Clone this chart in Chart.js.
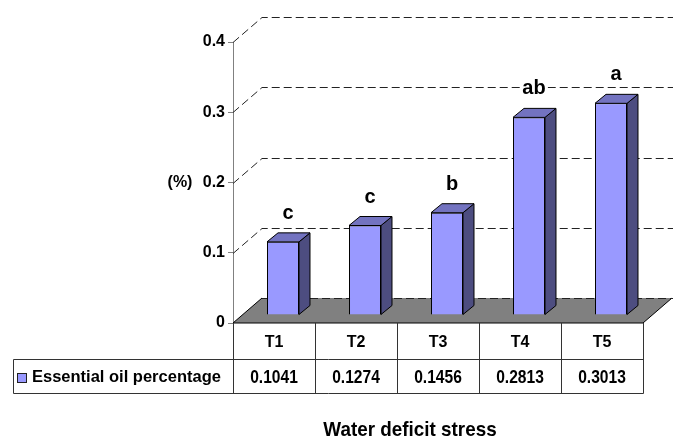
<!DOCTYPE html>
<html>
<head>
<meta charset="utf-8">
<script src="https://cdn.jsdelivr.net/npm/chart.js@4.4.1/dist/chart.umd.min.js"></script>
<style>
  html, body { margin: 0; padding: 0; background: #fff; }
  #wrap { width: 673px; height: 439px; }
</style>
</head>
<body>
<div id="wrap"><canvas id="chart" width="673" height="439"></canvas></div>
<script>
const categories = ['T1', 'T2', 'T3', 'T4', 'T5'];
const oilPercent = [0.1041, 0.1274, 0.1456, 0.2813, 0.3013];
const letters = ['c', 'c', 'b', 'ab', 'a'];
const yTicks = [0, 0.1, 0.2, 0.3, 0.4];
const seriesName = 'Essential oil percentage';
const xTitle = 'Water deficit stress';
const yTitle = '(%)';

const FONT = "'Liberation Sans', Arial, sans-serif";
// depth of the 3d box and of the bars
const DX = 29, DY = -25;
const BAR_OFF_X = 9, BAR_OFF_Y = -8;
const BAR_DX = 11, BAR_DY = -9;

// condensed text: regular bold squeezed horizontally
function narrowText(ctx, txt, x, y, size, sx) {
  ctx.save();
  ctx.font = 'bold ' + size + 'px ' + FONT;
  ctx.translate(x, y);
  ctx.scale(sx, 1);
  ctx.fillText(txt, 0, 0);
  ctx.restore();
}

const threeD = {
  id: 'threeD',
  beforeDatasetsDraw(chart) {
    const { ctx, chartArea: a, scales: { y } } = chart;
    ctx.save();
    // floor
    const y0 = y.getPixelForValue(0);
    ctx.fillStyle = '#808080';
    ctx.beginPath();
    ctx.moveTo(a.left, y0);
    ctx.lineTo(a.right, y0);
    ctx.lineTo(a.right + DX, y0 + DY);
    ctx.lineTo(a.left + DX, y0 + DY);
    ctx.closePath();
    ctx.fill();
    ctx.strokeStyle = '#000';
    ctx.lineWidth = 1;
    ctx.beginPath();
    ctx.moveTo(a.left + DX, y0 + DY);
    ctx.lineTo(a.left, y0);
    ctx.lineTo(a.right, y0);
    ctx.lineTo(a.right + DX, y0 + DY);
    ctx.stroke();
    // back wall grid
    ctx.setLineDash([8, 4]);
    ctx.strokeStyle = '#222';
    yTicks.forEach(v => {
      const py = Math.round(y.getPixelForValue(v)) + 0.5;
      ctx.beginPath();
      if (v !== 0) ctx.moveTo(a.left, py);
      else ctx.moveTo(a.left + DX, py + DY);
      ctx.lineTo(a.left + DX, py + DY);
      ctx.lineTo(chart.width, py + DY);
      ctx.stroke();
    });
    ctx.restore();
    ctx.save();
    ctx.translate(BAR_OFF_X, BAR_OFF_Y);
  },
  afterDatasetsDraw(chart) {
    const { ctx } = chart;
    ctx.restore();
    ctx.save();
    ctx.lineWidth = 1;
    ctx.strokeStyle = '#000';
    chart.getDatasetMeta(0).data.forEach((el, i) => {
      const xl = el.x - el.width / 2 + BAR_OFF_X;
      const xr = el.x + el.width / 2 + BAR_OFF_X;
      const top = el.y + BAR_OFF_Y;
      const base = el.base + BAR_OFF_Y;
      // side
      ctx.fillStyle = '#4d4d80';
      ctx.beginPath();
      ctx.moveTo(xr, top);
      ctx.lineTo(xr + BAR_DX, top + BAR_DY);
      ctx.lineTo(xr + BAR_DX, base + BAR_DY);
      ctx.lineTo(xr, base);
      ctx.closePath();
      ctx.fill();
      ctx.stroke();
      // top
      ctx.fillStyle = '#7373c0';
      ctx.beginPath();
      ctx.moveTo(xl, top);
      ctx.lineTo(xl + BAR_DX, top + BAR_DY);
      ctx.lineTo(xr + BAR_DX, top + BAR_DY);
      ctx.lineTo(xr, top);
      ctx.closePath();
      ctx.fill();
      ctx.stroke();
      // letter
      ctx.font = 'bold 20px ' + FONT;
      const tx = (xl + xr) / 2 + 5;
      const ty = top - 23;
      const w = ctx.measureText(letters[i]).width;
      ctx.fillStyle = '#fff';
      ctx.fillRect(tx - w / 2 - 2, ty - 15, w + 4, 19);
      ctx.fillStyle = '#000';
      ctx.textAlign = 'center';
      ctx.textBaseline = 'alphabetic';
      ctx.fillText(letters[i], tx, ty);
    });
    ctx.restore();
  },
  afterDraw(chart) {
    const { ctx, chartArea: a, scales: { x, y } } = chart;
    ctx.save();
    const y0 = y.getPixelForValue(0);
    const r1 = 359.5, r2 = 393.5, tl = 13.5;
    const step = (a.right - a.left) / categories.length;
    ctx.strokeStyle = '#333';
    ctx.lineWidth = 1;
    ctx.beginPath();
    for (let i = 0; i <= categories.length; i++) {
      const px = Math.round(a.left + i * step) + 0.5;
      ctx.moveTo(px, y0);
      ctx.lineTo(px, r2);
    }
    ctx.moveTo(tl, r1); ctx.lineTo(a.right + 0.5, r1);
    ctx.moveTo(tl, r2); ctx.lineTo(a.right + 0.5, r2);
    ctx.moveTo(tl, r1); ctx.lineTo(tl, r2);
    ctx.stroke();
    // legend key
    ctx.fillStyle = '#9999ff';
    ctx.fillRect(17.5, 373.5, 9, 9);
    ctx.strokeStyle = '#222';
    ctx.strokeRect(17.5, 373.5, 9, 9);
    ctx.fillStyle = '#000';
    ctx.textBaseline = 'middle';
    ctx.textAlign = 'left';
    ctx.font = 'bold 16.5px ' + FONT;
    ctx.fillText(seriesName, 32, (r1 + r2) / 2 + 1);
    ctx.textAlign = 'center';
    oilPercent.forEach((v, i) => {
      narrowText(ctx, v.toFixed(4), x.getPixelForValue(i), (r1 + r2) / 2 + 1, 19, 0.82);
    });
    ctx.font = 'bold 16px ' + FONT;
    ctx.fillText(yTitle, 180, y.getPixelForValue(0.2));
    narrowText(ctx, xTitle, 410, 430, 20.5, 0.92);
    ctx.restore();
  }
};

new Chart(document.getElementById('chart'), {
  type: 'bar',
  data: {
    labels: categories,
    datasets: [{
      label: seriesName,
      data: oilPercent,
      backgroundColor: '#9999ff',
      borderColor: '#000',
      borderWidth: 1,
      categoryPercentage: 1,
      barPercentage: 0.39
    }]
  },
  options: {
    responsive: false,
    animation: false,
    devicePixelRatio: 1,
    layout: { padding: { top: 42, right: 30, left: 0, bottom: 0 } },
    plugins: { legend: { display: false }, tooltip: { enabled: false } },
    scales: {
      x: {
        grid: { display: false, drawTicks: false },
        border: { display: false },
        ticks: { color: '#000', padding: 10, font: { family: FONT, size: 16, weight: 'bold' } },
        afterFit: s => { s.height = 116; }
      },
      y: {
        min: yTicks[0],
        max: yTicks[yTicks.length - 1],
        ticks: { stepSize: 0.1, color: '#000', padding: 3, font: { family: FONT, size: 16, weight: 'bold' } },
        grid: { drawOnChartArea: false, tickLength: 5, color: '#808080' },
        border: { display: true, color: '#808080' },
        afterFit: s => { s.width = 233; }
      }
    }
  },
  plugins: [threeD]
});
</script>
</body>
</html>
